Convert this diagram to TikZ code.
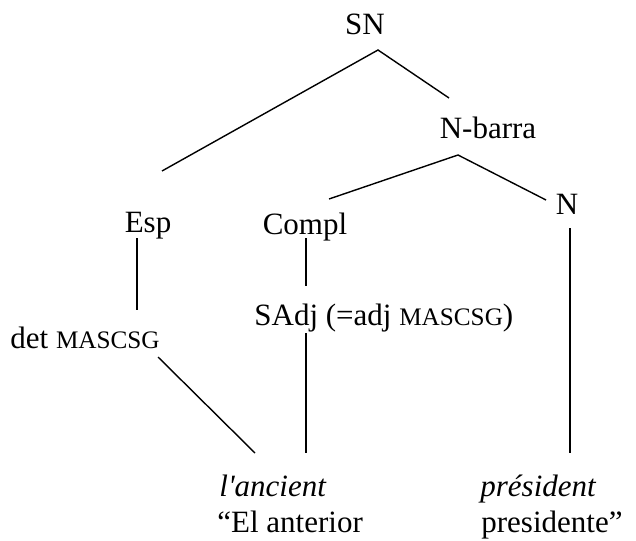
\documentclass[tikz,border=0pt]{standalone}
\usepackage{fontspec}
\setmainfont{Liberation Serif}
% small capitals in the style of a word processor: reduced upper case
\newcommand{\smallcapsword}[1]{{\fontsize{12.6pt}{14pt}\selectfont #1}}
\begin{document}
\begin{tikzpicture}[x=0.5pt,y=-0.5pt,
  lbl/.style={inner sep=0pt,font=\fontsize{15.5pt}{18pt}\selectfont},
  branch/.style={line width=0.7pt}]
\useasboundingbox (0,0) rectangle (636,540);

% category labels
\node[lbl,anchor=base] (sn) at (365,35) {SN};
\node[lbl,anchor=base] (nbar) at (488,138) {N-barra};
\node[lbl,anchor=base] (esp) at (148,232) {Esp};
\node[lbl,anchor=base] (compl) at (305,234) {Compl};
\node[lbl,anchor=base] (n) at (567,214) {N};
\node[lbl,anchor=base west] (det) at (10,348) {det \smallcapsword{MASCSG}};
\node[lbl,anchor=base west] (sadj) at (254,325) {SAdj (=adj \smallcapsword{MASCSG})};

% words and gloss
\node[lbl,anchor=base west] (ancient) at (219,496) {\itshape l\textquotesingle ancient};
\node[lbl,anchor=base west] (elant) at (217,532) {“El anterior};
\node[lbl,anchor=base west] (president) at (480,496) {\itshape président};
\node[lbl,anchor=base west] (presidente) at (481,532) {presidente”};

% branch end points
\coordinate (snfoot) at (378,50);
\coordinate (espTop) at (162,171);
\coordinate (nbarTop) at (449,98);
\coordinate (nbarfoot) at (458,155);
\coordinate (complTop) at (329,199);
\coordinate (nTop) at (546,200);
\coordinate (espfoot) at (137,238);
\coordinate (detTop) at (137,310);
\coordinate (complfoot) at (306,238);
\coordinate (sadjTop) at (306,286);
\coordinate (sadjfoot) at (306,333);
\coordinate (sadjLeaf) at (306,453);
\coordinate (detfoot) at (158,357);
\coordinate (detLeaf) at (255,453);
\coordinate (nfoot) at (570,228);
\coordinate (nLeaf) at (570,453);

% branches
\draw[branch] (espTop) -- (snfoot) -- (nbarTop);
\draw[branch] (complTop) -- (nbarfoot) -- (nTop);
\draw[branch] (espfoot) -- (detTop);
\draw[branch] (complfoot) -- (sadjTop);
\draw[branch] (sadjfoot) -- (sadjLeaf);
\draw[branch] (detfoot) -- (detLeaf);
\draw[branch] (nfoot) -- (nLeaf);
\end{tikzpicture}
\end{document}
